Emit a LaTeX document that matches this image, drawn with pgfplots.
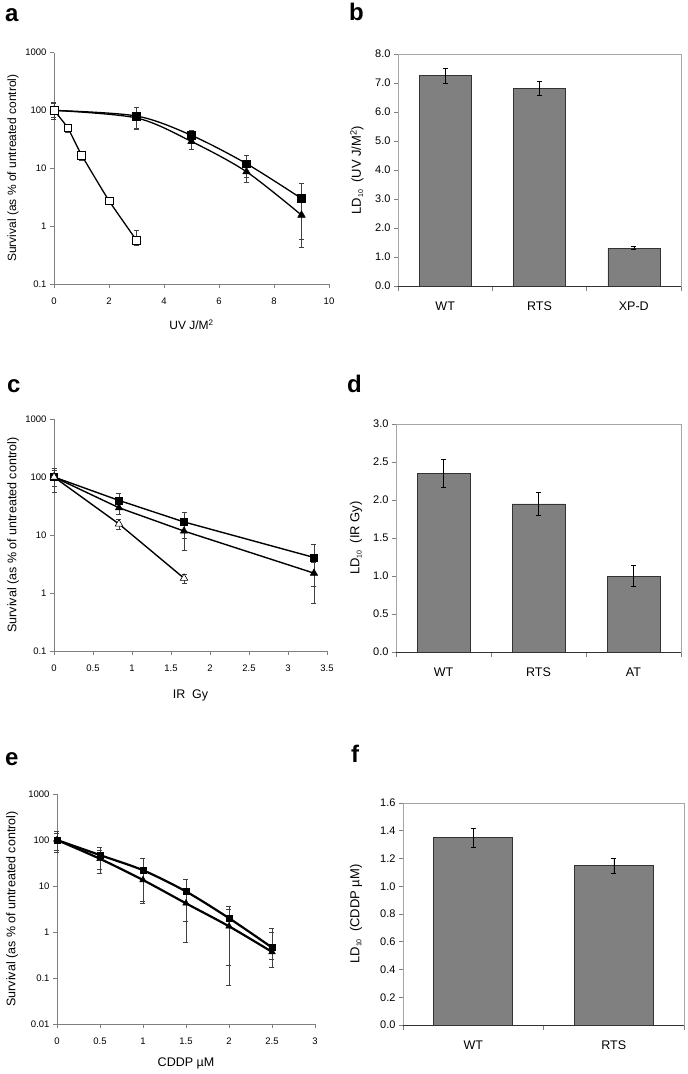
\documentclass[border=0pt]{standalone}
\usepackage{fontspec}
\setmainfont{Liberation Sans}
\usepackage{pgfplots}
\pgfplotsset{compat=1.18}
\definecolor{axgray}{HTML}{7F7F7F}
\definecolor{framegray}{HTML}{A6A6A6}
\definecolor{barfill}{HTML}{808080}
\newcommand{\sub}[1]{\raisebox{-0.3ex}{\fontsize{7}{8}\selectfont #1}}
\pgfplotsset{
  lineax/.style={scale only axis, anchor=south west, clip=false,
    axis x line*=bottom, axis y line*=left,
    axis line style={axgray, line width=0.6pt},
    tick style={axgray, line width=0.6pt},
    tick align=outside, major tick length=4pt,
    yminorticks=false, xminorticks=false,
    ticklabel style={font=\fontsize{9.5}{10}\selectfont},
    xticklabel style={yshift=-6pt},
    label style={font=\fontsize{12}{14}\selectfont}},
  barax/.style={scale only axis, anchor=south west, clip=false, ybar,
    axis line style={framegray, line width=0.6pt},
    tick style={axgray, line width=0.6pt},
    tick align=outside, major tick length=4pt,
    xtick pos=left, ytick pos=left,
    major x tick style={draw=none},
    minor tick length=5pt,
    yticklabel style={font=\fontsize{11}{12}\selectfont},
    xticklabel style={font=\fontsize{12.5}{14}\selectfont, yshift=-8pt},
    label style={font=\fontsize{13}{15}\selectfont},
    ymin=0},
  errs/.style={error bars/y dir=both, error bars/y explicit,
    error bars/error bar style={black!75, line width=0.5pt},
    error bars/error mark options={rotate=90, black!75, mark size=2.5pt, line width=0.5pt}},
  berrs/.style={error bars/y dir=both, error bars/y explicit,
    error bars/error bar style={black, line width=0.5pt},
    error bars/error mark options={rotate=90, black, mark size=2.5pt, line width=0.5pt}},
}
\begin{document}
\begin{tikzpicture}
\path[use as bounding box] (0pt,0pt) rectangle (688pt,-1074pt);
% panel letters
\node[anchor=base west, font=\fontsize{24}{26}\selectfont\bfseries, inner sep=0pt] at (5pt,-21pt) {a};
\node[anchor=base west, font=\fontsize{24}{26}\selectfont\bfseries, inner sep=0pt] at (349pt,-20pt) {b};
\node[anchor=base west, font=\fontsize{24}{26}\selectfont\bfseries, inner sep=0pt] at (7pt,-392pt) {c};
\node[anchor=base west, font=\fontsize{24}{26}\selectfont\bfseries, inner sep=0pt] at (347pt,-392pt) {d};
\node[anchor=base west, font=\fontsize{24}{26}\selectfont\bfseries, inner sep=0pt] at (5pt,-765pt) {e};
\node[anchor=base west, font=\fontsize{24}{26}\selectfont\bfseries, inner sep=0pt] at (351pt,-762pt) {f};

% ---------------- a ----------------
\begin{axis}[lineax, ymode=log, at={(54pt,-284pt)}, width=275pt, height=231.5pt,
  xmin=0, xmax=10, xtick={0,2,4,6,8,10}, xticklabels={0,2,4,6,8,10},
  ymin=0.1, ymax=1000, ytick={0.1,1,10,100,1000}, yticklabels={0.1,1,10,100,1000},
  xlabel={UV J/M\textsuperscript{2}}, ylabel={Survival (as \% of untreated control)},
  xlabel style={at={(axis description cs:0.5,-0.177)}, anchor=center},
  ylabel style={at={(axis description cs:-0.149,0.5)}, anchor=center}]
\addplot[black, line width=1.3pt, smooth, tension=0.5, mark=square*, mark size=3.8pt, mark options={solid, line width=0.5pt}, errs]
  table[x=x, y=y, y error plus=ep, y error minus=em] {
x y ep em
0 100 40 30
3 80 34 30
5 37 8 10
7 12 5 5
9 3 2.6 2.4
};
\addplot[black, line width=1.3pt, smooth, tension=0.5, mark=triangle*, mark size=4.4pt, mark options={solid, line width=0.5pt}, errs]
  table[x=x, y=y, y error plus=ep, y error minus=em] {
x y ep em
0 100 40 30
3 74 20 26
5 29 8 8
7 8.7 4 3
9 1.55 1.2 1.11
};
\addplot[black, line width=1.3pt, smooth, tension=0.3, mark=square*, mark size=3.9pt, mark options={solid, fill=white, line width=0.6pt}, errs]
  table[x=x, y=y, y error plus=ep, y error minus=em] {
x y ep em
0 100 35 25
0.5 50 8 8
1 17 3 3
2 2.75 0.4 0.4
3 0.57 0.28 0.1
};
\end{axis}

% ---------------- b ----------------
\begin{axis}[barax, at={(398pt,-286pt)}, width=283pt, height=232pt,
  xmin=0, xmax=3, xtick={0.5,1.5,2.5}, xticklabels={WT,RTS,XP-D},
  minor xtick={0,1,2,3}, bar width=52pt,
  ymax=8, ytick={0,1,2,3,4,5,6,7,8},
  yticklabels={0.0,1.0,2.0,3.0,4.0,5.0,6.0,7.0,8.0},
  ylabel={LD\sub{10}~~(UV J/M\textsuperscript{2})},
  ylabel style={at={(axis description cs:-0.145,0.5)}, anchor=center}]
\addplot[fill=barfill, draw=black!80, line width=0.6pt, berrs]
  coordinates {(0.5,7.25) +- (0,0.26) (1.5,6.82) +- (0,0.25) (2.5,1.31) +- (0,0.05)};
\draw[black!80, line width=0.7pt] (rel axis cs:0,0) -- (rel axis cs:1,0);
\end{axis}

% ---------------- c ----------------
\begin{axis}[lineax, ymode=log, at={(54pt,-651pt)}, width=273pt, height=232pt,
  xmin=0, xmax=3.5, xtick={0,0.5,1,1.5,2,2.5,3,3.5}, xticklabels={0,0.5,1,1.5,2,2.5,3,3.5},
  ymin=0.1, ymax=1000, ytick={0.1,1,10,100,1000}, yticklabels={0.1,1,10,100,1000},
  xlabel={IR~~Gy}, ylabel={Survival (as \% of untreated control)},
  label style={font=\fontsize{12.5}{14}\selectfont},
  xlabel style={at={(axis description cs:0.5,-0.19)}, anchor=center},
  ylabel style={at={(axis description cs:-0.15,0.5)}, anchor=center}]
\addplot[black, line width=1.4pt, mark=square*, mark size=3.6pt, mark options={solid, line width=0.5pt}, errs]
  table[x=x, y=y, y error plus=ep, y error minus=em] {
x y ep em
0 100 40 30
0.833 39.5 14 8
1.667 16.8 8 8
3.333 4.1 2.9 2.8
};
\addplot[black, line width=1.4pt, mark=triangle*, mark size=4.2pt, mark options={solid, line width=0.5pt}, errs]
  table[x=x, y=y, y error plus=ep, y error minus=em] {
x y ep em
0 100 40 45
0.833 29.5 8 7
1.667 11.7 5 6.2
3.333 2.2 1.2 1.53
};
\addplot[black, line width=1.4pt, mark=triangle*, mark size=4.4pt, mark options={solid, fill=white, line width=0.6pt}, errs]
  table[x=x, y=y, y error plus=ep, y error minus=em] {
x y ep em
0 100 30 30
0.833 15.5 3 3
1.667 1.8 0.3 0.3
};
\end{axis}

% ---------------- d ----------------
\begin{axis}[barax, at={(396pt,-652pt)}, width=285pt, height=228pt,
  xmin=0, xmax=3, xtick={0.5,1.5,2.5}, xticklabels={WT,RTS,AT},
  minor xtick={0,1,2,3}, bar width=53pt,
  ymax=3, ytick={0,0.5,1,1.5,2,2.5,3},
  yticklabels={0.0,0.5,1.0,1.5,2.0,2.5,3.0},
  ylabel={LD\sub{10}~~(IR Gy)},
  ylabel style={at={(axis description cs:-0.14,0.5)}, anchor=center}]
\addplot[fill=barfill, draw=black!80, line width=0.6pt, berrs]
  coordinates {(0.5,2.35) +- (0,0.18) (1.5,1.95) +- (0,0.15) (2.5,1.0) +- (0,0.14)};
\draw[black!80, line width=0.7pt] (rel axis cs:0,0) -- (rel axis cs:1,0);
\end{axis}

% ---------------- e ----------------
\begin{axis}[lineax, ymode=log, at={(57pt,-1024pt)}, width=258pt, height=230pt,
  xmin=0, xmax=3, xtick={0,0.5,1,1.5,2,2.5,3}, xticklabels={0,0.5,1,1.5,2,2.5,3},
  ymin=0.01, ymax=1000, ytick={0.01,0.1,1,10,100,1000}, yticklabels={0.01,0.1,1,10,100,1000},
  xlabel={CDDP µM}, ylabel={Survival (as \% of untreated control)},
  label style={font=\fontsize{12.5}{14}\selectfont},
  xlabel style={at={(axis description cs:0.5,-0.17)}, anchor=center},
  ylabel style={at={(axis description cs:-0.174,0.5)}, anchor=center}]
\addplot[black, line width=2.2pt, smooth, tension=0.5, mark=square*, mark size=3.2pt, mark options={solid, line width=0.5pt}, errs]
  table[x=x, y=y, y error plus=ep, y error minus=em] {
x y ep em
0 100 52 47
0.5 47 24 24
1 22 18 17.4
1.5 7.6 6.6 5.9
2 2.0 1.7 1.81
2.5 0.46 0.72 0.2
};
\addplot[black, line width=2.2pt, smooth, tension=0.5, mark=triangle*, mark size=3.8pt, mark options={solid, line width=0.5pt}, errs]
  table[x=x, y=y, y error plus=ep, y error minus=em] {
x y ep em
0 100 40 40
0.5 39 21 20
1 13.5 8 9.3
1.5 4.2 4 3.6
2 1.33 1.8 1.26
2.5 0.37 0.63 0.2
};
\end{axis}

% ---------------- f ----------------
\begin{axis}[barax, at={(403pt,-1025pt)}, width=281pt, height=222pt,
  xmin=0, xmax=2, xtick={0.5,1.5}, xticklabels={WT,RTS},
  minor xtick={0,1,2}, bar width=79pt,
  ymax=1.6, ytick={0,0.2,0.4,0.6,0.8,1,1.2,1.4,1.6},
  yticklabels={0.0,0.2,0.4,0.6,0.8,1.0,1.2,1.4,1.6},
  ylabel={LD\sub{10}~~(CDDP µM)},
  ylabel style={at={(axis description cs:-0.167,0.5)}, anchor=center}]
\addplot[fill=barfill, draw=black!80, line width=0.6pt, berrs]
  coordinates {(0.5,1.35) +- (0,0.07) (1.5,1.15) +- (0,0.055)};
\draw[black!80, line width=0.7pt] (rel axis cs:0,0) -- (rel axis cs:1,0);
\end{axis}
\end{tikzpicture}
\end{document}
